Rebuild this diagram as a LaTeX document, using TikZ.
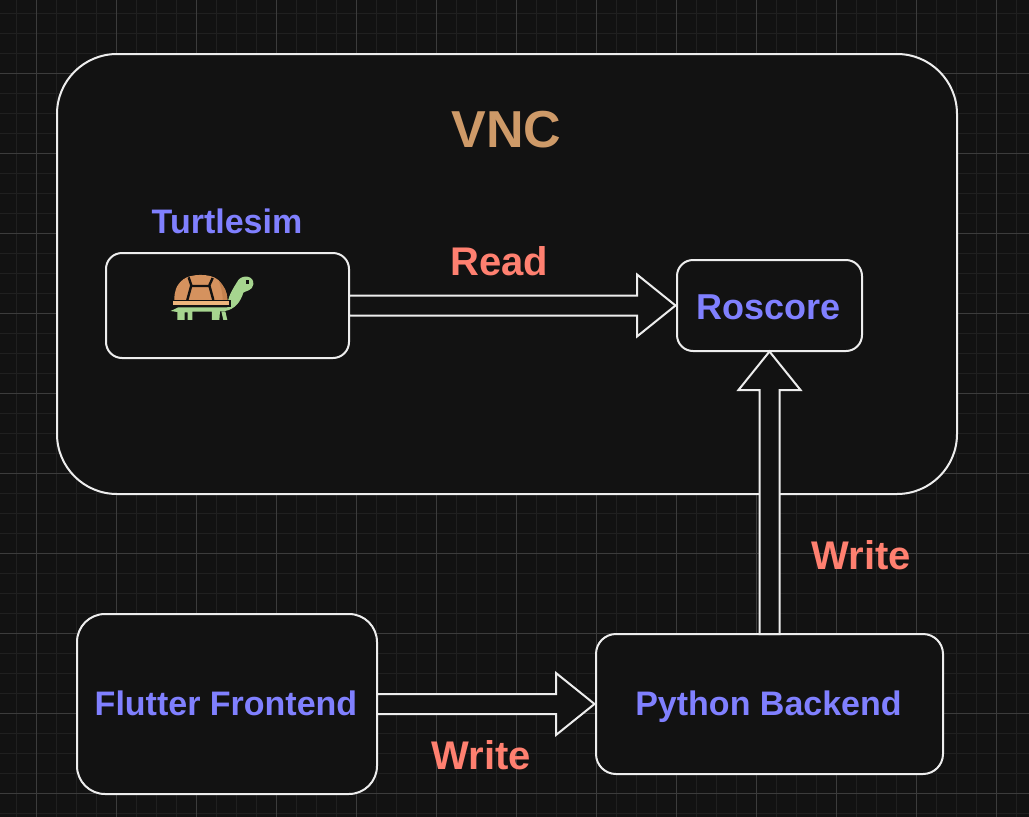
\documentclass[tikz,border=0pt]{standalone}
\usepackage{fontspec}
\setmainfont{Liberation Sans}
\definecolor{bg}{HTML}{121212}
\definecolor{gridminor}{HTML}{202020}
\definecolor{gridmajor}{HTML}{3C3C3C}
\definecolor{edge}{HTML}{EDEDED}
\definecolor{blue1}{HTML}{8080FF}
\definecolor{salmon}{HTML}{FF8070}
\definecolor{tan1}{HTML}{CE9A68}
\definecolor{shell}{HTML}{D5925E}
\definecolor{shelld}{HTML}{C4824F}
\definecolor{rim}{HTML}{EDB57C}
\definecolor{green1}{HTML}{A6D58F}
\tikzset{
  box/.style={draw=edge,line width=2pt,fill=bg,outer sep=0pt,inner sep=0pt,text=blue1,font=\bfseries\fontsize{34}{40}\selectfont},
  blockarr/.style={draw=edge,line width=2pt,fill=bg,line join=miter},
  lab/.style={font=\bfseries\fontsize{40}{48}\selectfont,text=salmon,inner sep=0pt},
}
\begin{document}
\begin{tikzpicture}[x=1pt,y=-1pt]
\useasboundingbox (0,0) rectangle (1029,817);
\fill[bg] (0,0) rectangle (1029,817);
\foreach \i in {0,...,51} \draw[gridminor,line width=1.2pt] ({16.5+20*\i},0) -- ({16.5+20*\i},817);
\foreach \i in {0,...,40} \draw[gridminor,line width=1.2pt] (0,{13.5+20*\i}) -- (1029,{13.5+20*\i});
\foreach \i in {0,...,12} \draw[gridmajor,line width=1pt] ({36.5+80*\i},0) -- ({36.5+80*\i},817);
\foreach \i in {0,...,9} \draw[gridmajor,line width=1pt] (0,{73.5+80*\i}) -- (1029,{73.5+80*\i});

\node[box,rounded corners=60pt,minimum width=900pt,minimum height=440pt] (vnc) at (507,274) {};
\node[font=\bfseries\fontsize{52}{60}\selectfont,text=tan1,inner sep=0pt] (vnct) at (506.5,130) {VNC};
\node[box,rounded corners=16pt,minimum width=243pt,minimum height=105pt] (tsim) at (227.5,305.5) {};
\node[text=blue1,font=\bfseries\fontsize{34}{40}\selectfont,inner sep=0pt] (tsimt) at (227,221) {Turtlesim};
\node[box,rounded corners=16pt,minimum width=185pt,minimum height=91pt,text height=27pt,text depth=0pt,font=\bfseries\fontsize{36}{42}\selectfont] (ros) at (769.5,305.5) {\kern-2pt Roscore};
\node[box,rounded corners=28pt,minimum width=300pt,minimum height=180pt,text depth=2pt] (flut) at (227,704) {\kern-2pt Flutter Frontend};
\node[box,rounded corners=20pt,minimum width=347pt,minimum height=140pt,text height=25pt,text depth=2pt] (py) at (769.5,704) {\kern-2pt Python Backend};

% block arrows
\draw[blockarr] (tsim.east) ++(0,-10) -- ++(288,0) -- ++(0,-21) -- ++(38.5,31) -- ++(-38.5,31) -- ++(0,-21) -- ++(-288,0) -- cycle;
\draw[blockarr] (flut.east) ++(0,-10) -- ++(179,0) -- ++(0,-21) -- ++(38.5,31) -- ++(-38.5,31) -- ++(0,-21) -- ++(-179,0) -- cycle;
\draw[blockarr] (py.north) ++(-10,0) -- ++(0,-244) -- ++(-21,0) -- ++(31,-38.5) -- ++(31,38.5) -- ++(-21,0) -- ++(0,244) -- cycle;

\node[lab] (l1) at (499.5,261) {Read};
\node[lab] (l2) at (861.5,555) {Write};
\node[lab] (l3) at (481.5,755) {Write};

% turtle
\begin{scope}[shift={(140,250)},x=0.3333pt,y=-0.3333pt]
\fill[green1] (92,183) -- (115,172) -- (262,172) .. controls (262,140) and (278,118) .. (295,90) .. controls (310,72) and (343,78) .. (340,103) .. controls (338,122) and (318,122) .. (310,128) .. controls (302,155) and (285,178) .. (255,183) -- (240,184) -- (238,210) -- (216,210) -- (216,185) -- (157,185) -- (157,210) -- (143,210) -- (143,187) -- (134,187) -- (134,210) -- (112,210) -- (112,186) -- cycle;
\fill[green1] (244,184) -- (256,184) -- (262,210) -- (250,210) -- cycle;
\fill[bg] (319,89) rectangle (327,103);
\fill[shell] (103,150) .. controls (103,125) and (108,105) .. (130,88) .. controls (150,72) and (210,68) .. (235,90) .. controls (252,108) and (262,125) .. (262,150) -- cycle;
\fill[shelld] (236,92) .. controls (252,108) and (262,125) .. (262,150) -- (248,150) .. controls (248,125) and (242,108) .. (236,92) -- cycle;
\draw[bg,line width=2.4pt] (146,82) -- (154,106) -- (142,150) (218,84) -- (208,106) -- (220,150) (154,108) -- (208,108);
\fill[bg] (94,149) rectangle (272,170);
\fill[rim] (98,154) rectangle (267,165);
\end{scope}
\end{tikzpicture}
\end{document}
